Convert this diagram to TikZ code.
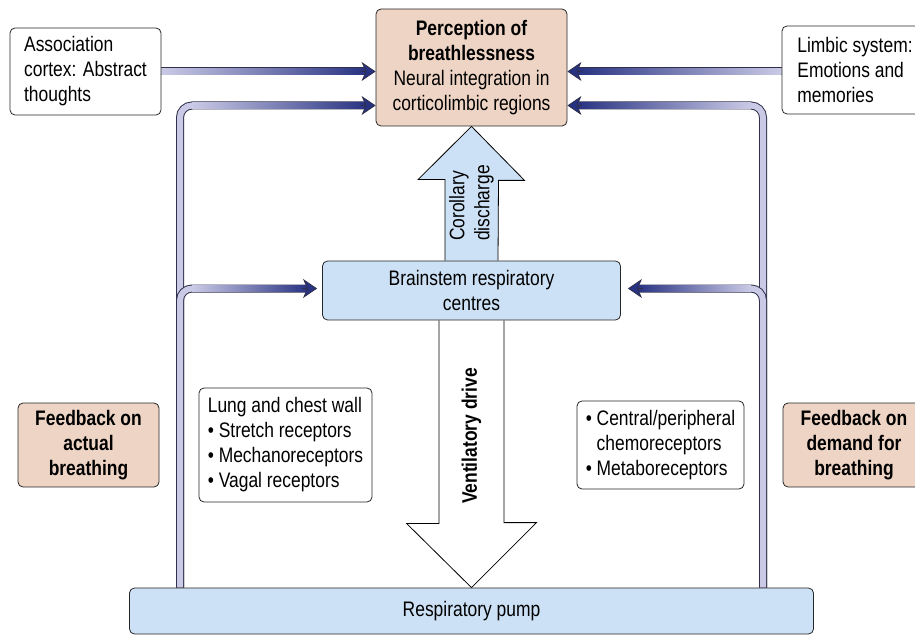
\documentclass[tikz,border=0pt]{standalone}
\usepackage{fontspec}
\setmainfont[FakeStretch=0.83]{Liberation Sans}
\usetikzlibrary{arrows.meta,backgrounds}

\definecolor{peach}{HTML}{EED4C4}
\definecolor{paleblue}{HTML}{CCE1F5}
\definecolor{tubelight}{HTML}{CACAE6}
\definecolor{tubedark}{HTML}{283282}
\definecolor{tubeedge}{HTML}{30304A}

\begin{document}
\begin{tikzpicture}[
  x=1pt,
  y=-1pt,
  line join=round,
  every node/.style={font=\fontsize{21}{25}\selectfont},
  strong/.style={font=\fontsize{21}{25}\selectfont\bfseries},
  box/.style={draw=black!85,line width=0.8pt,rounded corners=5pt,inner sep=0pt,align=center},
  warm/.style={box,fill=peach},
  cool/.style={box,fill=paleblue},
  plain/.style={box,fill=white},
  tube/.style={draw=tubeedge,line width=1pt,double=tubelight,double distance=6pt,rounded corners=12pt},
  tubehead/.style={draw=tubeedge,line width=0.8pt,-{Stealth[length=14pt,width=19pt,inset=4pt,fill=tubedark]}},
  bigarrow/.style={draw=black,line width=0.8pt}
]
  \useasboundingbox (0,0) rectangle (915,636);

  % Boxes.
  \node[warm,minimum width=191pt,minimum height=117pt] (percep) at (471.5,67.5)
    {\textbf{Perception of}\\\textbf{breathlessness}\\Neural integration in\\corticolimbic regions};
  \node[plain,minimum width=151pt,minimum height=87pt,align=left] (assoc) at (85.5,71.5)
    {Association\\cortex: Abstract\\thoughts};
  \node[plain,minimum width=146pt,minimum height=88pt,align=left] (limbic) at (855,70)
    {Limbic system:\\Emotions and\\memories};
  \node[cool,minimum width=298pt,minimum height=59pt] (brain) at (471.5,290.5)
    {Brainstem respiratory\\centres};
  \node[cool,minimum width=684pt,minimum height=46pt] (pump) at (471.5,611)
    {Respiratory pump};
  \node[warm,strong,minimum width=141pt,minimum height=84pt] (fbact) at (88.5,445)
    {Feedback on\\actual\\breathing};
  \node[plain,minimum width=173pt,minimum height=114pt,align=left] (lung) at (285.5,445)
    {Lung and chest wall\\• Stretch receptors\\• Mechanoreceptors\\• Vagal receptors};
  \node[plain,minimum width=167pt,minimum height=88pt,align=left] (chemo) at (660.5,445)
    {• Central/peripheral\\\phantom{• }chemoreceptors\\• Metaboreceptors};
  \node[warm,strong,minimum width=142pt,minimum height=84pt] (fbdem) at (854,445)
    {Feedback on\\demand for\\breathing};

  % Labels inside the big arrows.
  \node[rotate=90,align=left] (corol) at (471.5,203) {Corollary\\discharge};
  \node[rotate=90,strong] (vent) at (471.5,436) {Ventilatory drive};

  % Where the feedback tubes leave the pump and enter the boxes.
  \coordinate (footL) at ([xshift=-291.5pt]pump.north);
  \coordinate (footR) at ([xshift=291.5pt]pump.north);
  \coordinate (inA) at (assoc.east -| percep.west);
  \coordinate (inB) at ([yshift=-38pt]percep.west);
  \coordinate (inC) at (assoc.east -| percep.east);
  \coordinate (inD) at ([yshift=-38pt]percep.east);
  \coordinate (inE) at ([xshift=-5pt,yshift=2pt]brain.west);
  \coordinate (inF) at ([xshift=7pt,yshift=2pt]brain.east);
  \coordinate (startC) at (limbic.west |- inC);
  \coordinate (cornB) at (footL |- inB);
  \coordinate (cornD) at (footR |- inD);
  \coordinate (cornE) at (footL |- inE);
  \coordinate (cornF) at (footR |- inF);

  \begin{scope}[on background layer]
    % Corollary discharge and ventilatory drive.
    \filldraw[bigarrow,fill=paleblue] ([xshift=-26.5pt]brain.north) -- ++(0,-81) -- ++(-27,0)
      -- (percep.south) -- ++(53,54) -- ++(-26,0) -- ([xshift=26.5pt]brain.north);
    \filldraw[bigarrow,fill=white] ([xshift=-32.5pt]brain.south) -- ++(0,203) -- ++(-32.5,0)
      -- (pump.north) -- ++(65,-65) -- ++(-32.5,0) -- ([xshift=32.5pt]brain.south);

    % Tubes pointing right.
    \draw[tube] (assoc.east) -- ([xshift=-9pt]inA);
    \shade[left color=tubelight,right color=tubedark] ([yshift=2.7pt]assoc.east) rectangle ([xshift=-9pt,yshift=-2.7pt]inA);
    \draw[tubehead] ([xshift=-15pt]inA) -- (inA);

    \draw[tube] (footL) |- ([xshift=-9pt]inB);
    \shade[left color=tubelight,right color=tubedark] ([xshift=12pt,yshift=2.7pt]cornB) rectangle ([xshift=-9pt,yshift=-2.7pt]inB);
    \draw[tubehead] ([xshift=-15pt]inB) -- (inB);

    \draw[tube] (footL) |- ([xshift=-9pt]inE);
    \shade[left color=tubelight,right color=tubedark] ([xshift=12pt,yshift=2.7pt]cornE) rectangle ([xshift=-9pt,yshift=-2.7pt]inE);
    \draw[tubehead] ([xshift=-15pt]inE) -- (inE);

    % Tubes pointing left.
    \draw[tube] (startC) -- ([xshift=9pt]inC);
    \shade[left color=tubedark,right color=tubelight] ([xshift=9pt,yshift=2.7pt]inC) rectangle ([yshift=-2.7pt]startC);
    \draw[tubehead] ([xshift=15pt]inC) -- (inC);

    \draw[tube] (footR) |- ([xshift=9pt]inD);
    \shade[left color=tubedark,right color=tubelight] ([xshift=9pt,yshift=2.7pt]inD) rectangle ([xshift=-12pt,yshift=-2.7pt]cornD);
    \draw[tubehead] ([xshift=15pt]inD) -- (inD);

    \draw[tube] (footR) |- ([xshift=9pt]inF);
    \shade[left color=tubedark,right color=tubelight] ([xshift=9pt,yshift=2.7pt]inF) rectangle ([xshift=-12pt,yshift=-2.7pt]cornF);
    \draw[tubehead] ([xshift=15pt]inF) -- (inF);
  \end{scope}
\end{tikzpicture}
\end{document}
